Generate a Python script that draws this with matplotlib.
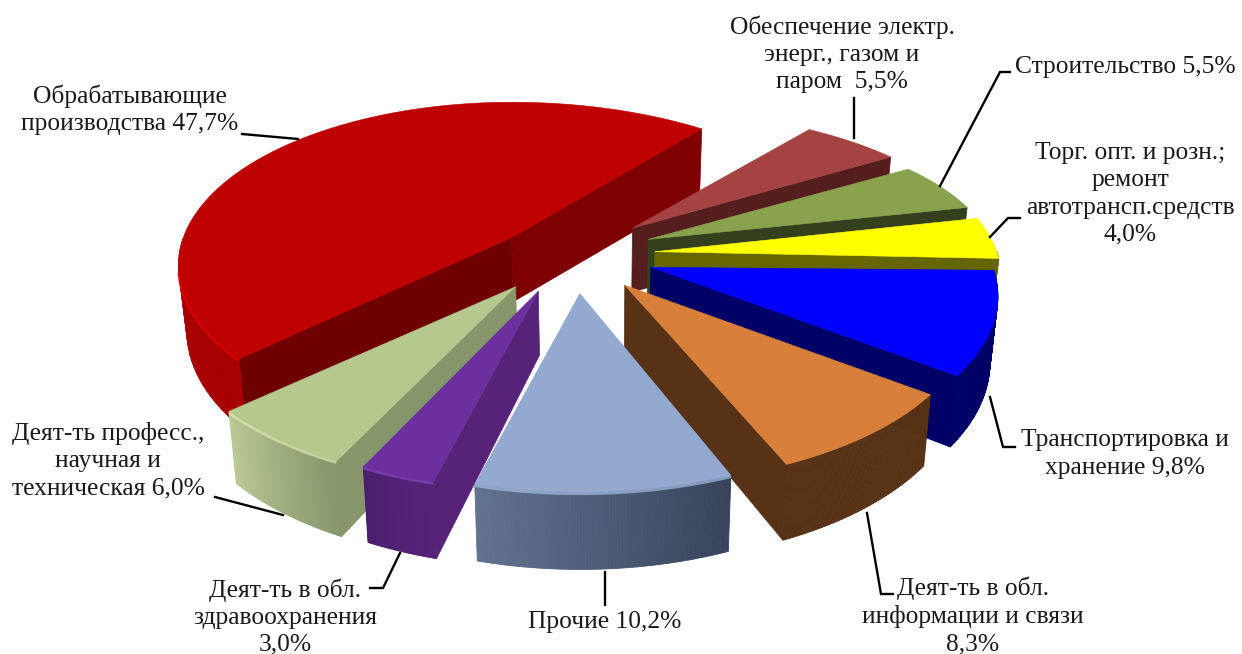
import numpy as np
import matplotlib
matplotlib.use("Agg")
import matplotlib.pyplot as plt
from matplotlib.colors import to_rgb

# ---------- data ----------
values = [5.5, 5.5, 4.0, 9.8, 8.3, 10.2, 3.0, 6.0, 47.7]
labels = [
    "Обеспечение электр.\nэнерг., газом и\nпаром  {}%",
    "Строительство {}%",
    "Торг. опт. и розн.;\nремонт\nавтотрансп.средств\n{}%",
    "Транспортировка и\nхранение {}%",
    "Деят-ть в обл.\nинформации и связи\n{}%",
    "Прочие {}%",
    "Деят-ть в обл.\nздравоохранения\n{}%",
    "Деят-ть професс.,\nнаучная и\nтехническая {}%",
    "Обрабатывающие\nпроизводства {}%",
]

# ---------- style ----------
top_cols = ["#A54342", "#88A24D", "#FFFF00", "#0000FF", "#D88039", "#94A9CF", "#6E2F9E", "#B5C98F", "#BE0000"]
start_cols = ["#541E1E", "#343F1E", "#666600", "#000066", "#573216", "#3A475E", "#572379", "#86956A", "#6E0000"]
end_cols = ["#541E1E", "#343F1E", "#666600", "#000066", "#573216", "#3A475E", "#4B2070", "#86956A", "#7E0000"]
arc_a = ["#541E1E", "#343F1E", "#666600", "#000066", "#573216", "#36435A", "#55247A", "#84956A", "#A80000"]
arc_b = ["#541E1E", "#343F1E", "#666600", "#000066", "#573216", "#62728F", "#4A206E", "#BAC995", "#A80000"]
rim_cols = [None, None, None, None, None, "#A5C0E6", "#8A45C0", "#DDEBB5", "#E60000"]
nudges = [(0, 0), (0, 0), (0, 0), (0, 0), (0, 0), (0, 0), (-9, 0), (-11, 1), (-5, 9)]
left_scale = [1, 1, 1, 1, 1, 1, 1, 1, 0.96]
y_scale = [0.84, 0.84, 1, 1, 1, 1, 1, 1, 0.96]
rot_deg = [3, 2.5, 0.7, 2, 1.7, 0, 0, -0.7, 0]
draw_order = [8, 0, 1, 2, 3, 7, 6, 4, 5]

START_DEG, CX, CY, EXPL = 51.0, 575.0, 255.0, 80.0
R, RK, P, H = 342.0, 165.0, 0.17, 64.0
K = RK / R
BX0, BSCALE = 600.0, 0.98

leaders = [
    [(854, 98), (854, 138)],
    [(1010, 72), (1000, 72), (940, 186)],
    [(1020, 218), (1008, 218), (990, 237)],
    [(990, 397), (1003, 447), (1015, 447)],
    [(867, 513), (881, 594), (893, 594)],
    [(605, 572), (605, 605)],
    [(400, 553), (383, 588), (370, 588)],
    [(215, 497), (283, 515)],
    [(242, 134), (298, 139)],
]
label_pos = [(842, 54), (1125, 67), (1130, 194), (1125, 454), (973, 616),
             (605, 622), (285, 617), (108, 461), (130, 110)]

plt.rcParams["font.family"] = ["Liberation Serif", "DejaVu Serif"]
fig = plt.figure(figsize=(12.42, 6.54), dpi=100, facecolor="white")
ax = fig.add_axes([0, 0, 1, 1])
ax.set_xlim(0, 1242)
ax.set_ylim(654, 0)
ax.axis("off")

# angles from the values (clockwise)
vals = np.array(values, float)
spans = vals / vals.sum() * 360.0
starts = START_DEG - np.concatenate([[0], np.cumsum(spans)[:-1]])
ends = starts - spans


def top_pt(ax0, ay0, t, lscale, yscale):
    u, v = np.cos(t), np.sin(t)
    s = 1.0 / (1.0 + P * v)
    xs = np.where(u < 0, lscale, 1.0)
    return ax0 + R * u * s * xs, ay0 - RK * v * s * yscale, s, v


def bot_pt(x, y, s, v):
    hh = H * np.where(v < 0, s, 1.0)
    return BX0 + (x - BX0) * BSCALE, y + hh


for i in draw_order:
    a0, a1 = np.radians(starts[i] + rot_deg[i]), np.radians(ends[i] + rot_deg[i])
    mid = (a0 + a1) / 2
    ax0 = CX + EXPL * np.cos(mid) + nudges[i][0]
    ay0 = CY - EXPL * K * np.sin(mid) + nudges[i][1]
    ts = np.linspace(a0, a1, 90)
    x, y, s, v = top_pt(ax0, ay0, ts, left_scale[i], y_scale[i])
    xb, yb = bot_pt(x, y, s, v)
    apxb, apyb = bot_pt(np.array(ax0), np.array(ay0), np.array(1.0), np.array(0.0))

    # radial faces, shown when their outward normal faces the viewer
    if np.sin(a0 + np.pi / 2) < 0:
        ax.fill([ax0, x[0], xb[0], apxb], [ay0, y[0], yb[0], apyb],
                color=start_cols[i], lw=0.5, zorder=1)
    if np.sin(a1 - np.pi / 2) < 0:
        ax.fill([ax0, x[-1], xb[-1], apxb], [ay0, y[-1], yb[-1], apyb],
                color=end_cols[i], lw=0.5, zorder=1)

    # outer face as narrow shaded facets
    ca, cb = np.array(to_rgb(arc_a[i])), np.array(to_rgb(arc_b[i]))
    for j in range(len(ts) - 1):
        if np.sin((ts[j] + ts[j + 1]) / 2) < 0:
            f = j / (len(ts) - 2)
            c = ca + (cb - ca) * f
            ax.fill([x[j], x[j + 1], xb[j + 1], xb[j]], [y[j], y[j + 1], yb[j + 1], yb[j]],
                    color=c, lw=0.6, zorder=1)

    # top face
    ax.fill(np.r_[ax0, x], np.r_[ay0, y], color=top_cols[i], lw=0.4, zorder=1)

    # bright rim on the visible top edge
    if rim_cols[i]:
        vis = np.sin(ts) < -0.2
        ax.plot(x[vis], y[vis] + 1.5, color=rim_cols[i], lw=1.8, alpha=0.7,
                solid_capstyle="butt", zorder=1)

for pts in leaders:
    px, py = zip(*pts)
    ax.plot(px, py, color="black", lw=1.7, solid_joinstyle="miter", zorder=2)

for lab, val, (lx, ly) in zip(labels, values, label_pos):
    ax.text(lx, ly, lab.format(f"{val:.1f}".replace(".", ",")), ha="center", va="center",
            fontsize=18.4, color="#1a1a1a", linespacing=1.3, zorder=3)

fig.savefig("out.png", dpi=100, facecolor="white")
